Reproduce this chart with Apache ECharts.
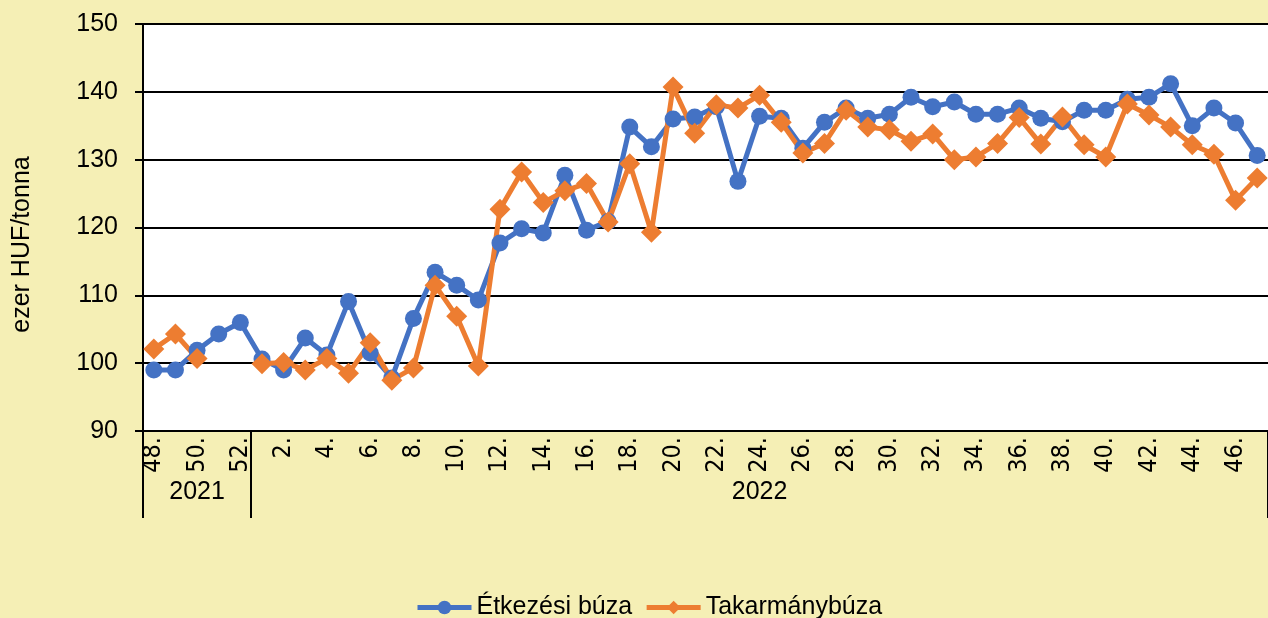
<!DOCTYPE html>
<html>
<head>
<meta charset="utf-8">
<script src="https://cdn.jsdelivr.net/npm/echarts@6/dist/echarts.min.js"></script>
<style>
  html, body { margin: 0; padding: 0; background: #F5EFB5; }
  #chart { width: 1268px; height: 618px; }
</style>
</head>
<body>
<div id="chart"></div>
<script>
// weeks: 48-52 of 2021, then 1-47 of 2022
const weeks = ['48.', '49.', '50.', '51.', '52.',
  '1.', '2.', '3.', '4.', '5.', '6.', '7.', '8.', '9.', '10.',
  '11.', '12.', '13.', '14.', '15.', '16.', '17.', '18.', '19.', '20.',
  '21.', '22.', '23.', '24.', '25.', '26.', '27.', '28.', '29.', '30.',
  '31.', '32.', '33.', '34.', '35.', '36.', '37.', '38.', '39.', '40.',
  '41.', '42.', '43.', '44.', '45.', '46.', '47.'];
const years = ['2021', '2021', '2021', '2021', '2021'].concat(new Array(47).fill('2022'));

const etkezesi = [99.0, 99.0, 101.9, 104.3, 106.0,
  100.6, 99.0, 103.7, 101.2, 109.1, 101.5, 97.8, 106.6, 113.4, 111.5,
  109.3, 117.7, 119.8, 119.2, 127.7, 119.6, 120.9, 134.8, 131.9, 136.0,
  136.3, 137.8, 126.8, 136.4, 136.1, 131.7, 135.5, 137.6, 136.1, 136.7,
  139.2, 137.8, 138.5, 136.7, 136.7, 137.6, 136.1, 135.6, 137.3, 137.3,
  138.9, 139.2, 141.2, 135.0, 137.6, 135.4, 130.6];
const takarmany = [102.1, 104.3, 100.7, null, null,
  99.9, 100.1, 99.0, 100.7, 98.5, 103.0, 97.5, 99.3, 111.5, 106.9,
  99.6, 122.7, 128.2, 123.7, 125.4, 126.5, 120.8, 129.4, 119.3, 140.7,
  133.9, 138.1, 137.6, 139.5, 135.5, 131.0, 132.4, 137.3, 134.8, 134.4,
  132.7, 133.8, 130.0, 130.4, 132.4, 136.2, 132.3, 136.3, 132.2, 130.4,
  138.2, 136.6, 134.8, 132.2, 130.8, 124.0, 127.3];

// first and middle week of each year group
function groupStart(i) { return i === 0 || years[i] !== years[i - 1]; }
function groupMiddle(i) {
  let s = i, e = i;
  while (s > 0 && years[s - 1] === years[i]) s--;
  while (e < years.length - 1 && years[e + 1] === years[i]) e++;
  return i === Math.floor((s + e) / 2);
}

const chart = echarts.init(document.getElementById('chart'));
const txt = { color: '#000', fontFamily: 'Liberation Sans, Arial, sans-serif', fontSize: 25 };

chart.setOption({
  backgroundColor: '#F5EFB5',
  color: ['#4472C4', '#ED7D31'],
  animation: false,
  textStyle: txt,
  grid: {
    left: 143, top: 24, bottom: 187, width: 1134,
    show: true, backgroundColor: '#fff', borderWidth: 0
  },
  legend: {
    left: 410, top: 590,
    itemWidth: 54, itemHeight: 17, itemGap: 12,
    lineStyle: { width: 5 },
    textStyle: txt,
    data: ['Étkezési búza', 'Takarmánybúza']
  },
  xAxis: [{
    type: 'category',
    data: weeks,
    boundaryGap: true,
    axisLine: { lineStyle: { color: '#000', width: 2 } },
    axisTick: { show: false },
    axisLabel: {
      ...txt,
      fontFamily: 'Liberation Sans Narrow, DejaVu Sans Condensed, sans-serif',
      fontSize: 25, rotate: 90, interval: 1, margin: 6
    }
  }, {
    type: 'category',
    data: years,
    position: 'bottom',
    boundaryGap: true,
    axisLine: { show: false },
    axisTick: {
      show: true, length: 87, inside: false,
      interval: (i) => groupStart(i),
      lineStyle: { color: '#000', width: 2 }
    },
    axisLabel: {
      ...txt, margin: 49,
      interval: (i) => groupMiddle(i)
    }
  }],
  yAxis: {
    type: 'value',
    min: 90, max: 150, interval: 10,
    name: 'ezer HUF/tonna',
    nameLocation: 'middle',
    nameGap: 108,
    nameTextStyle: { ...txt, padding: [0, 34, 0, 0] },
    axisLine: { show: true, lineStyle: { color: '#000', width: 2 } },
    axisTick: { show: true, length: 8, lineStyle: { color: '#000', width: 2 } },
    axisLabel: { ...txt, margin: 25 },
    splitLine: { lineStyle: { color: '#000', width: 2 } }
  },
  series: [{
    name: 'Étkezési búza',
    type: 'line',
    data: etkezesi,
    symbol: 'circle',
    symbolSize: 17,
    showAllSymbol: true,
    lineStyle: { width: 5 },
    connectNulls: false
  }, {
    name: 'Takarmánybúza',
    type: 'line',
    data: takarmany,
    symbol: 'diamond',
    symbolSize: 21,
    showAllSymbol: true,
    lineStyle: { width: 5 },
    connectNulls: false
  }]
});
</script>
</body>
</html>
